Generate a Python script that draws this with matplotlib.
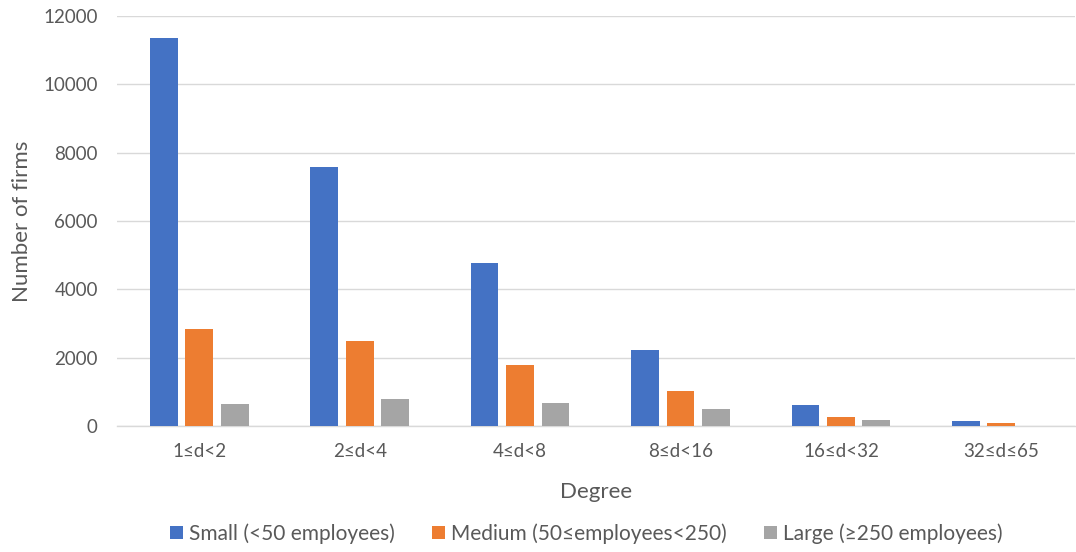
import matplotlib.pyplot as plt
import numpy as np

categories = ["1≤d<2", "2≤d<4", "4≤d<8", "8≤d<16", "16≤d<32", "32≤d≤65"]
small = [11350, 7580, 4770, 2225, 615, 165]
medium = [2830, 2490, 1785, 1025, 255, 80]
large = [640, 790, 670, 500, 170, 10]

series = [
    ("Small (<50 employees)", small, "#4472C4"),
    ("Medium (50≤employees<250)", medium, "#ED7D31"),
    ("Large (≥250 employees)", large, "#A5A5A5"),
]

txt = "#595959"
plt.rcParams['font.family'] = ['Lato', 'DejaVu Sans']

fig = plt.figure(figsize=(10.76, 5.52), dpi=100)
ax = fig.add_axes([0.109, 0.228, 0.89, 0.743])

x = np.arange(len(categories))
w = 0.173
step = 0.221
for i, (name, vals, col) in enumerate(series):
    ax.bar(x + (i - 1) * step, vals, width=w, color=col, label=name, zorder=3)

ax.set_xlim(-0.511, 5.459)
ax.set_ylim(0, 12000)
ax.set_yticks(range(0, 12001, 2000))
ax.set_xticks(x)
ax.set_xticklabels(categories)
ax.tick_params(axis='both', length=0, labelsize=13.5, colors=txt)
ax.tick_params(axis='x', pad=12)
ax.tick_params(axis='y', pad=14)
ax.grid(axis='y', color="#D9D9D9", linewidth=1, zorder=0)
for s in ["top", "right", "left"]:
    ax.spines[s].set_visible(False)
ax.spines["bottom"].set_color("#D9D9D9")
ax.spines["bottom"].set_linewidth(1)

ax.set_xlabel("Degree", fontsize=16, color=txt, labelpad=16)
ax.set_ylabel("Number of firms", fontsize=16, color=txt, labelpad=8)

leg = fig.legend(loc="center", bbox_to_anchor=(0.545, 0.034), ncol=3, frameon=False,
                 fontsize=15, handlelength=0.6, handleheight=0.6, handletextpad=0.3,
                 columnspacing=1.8)
for t in leg.get_texts():
    t.set_color(txt)

fig.savefig("out.png", dpi=100)
